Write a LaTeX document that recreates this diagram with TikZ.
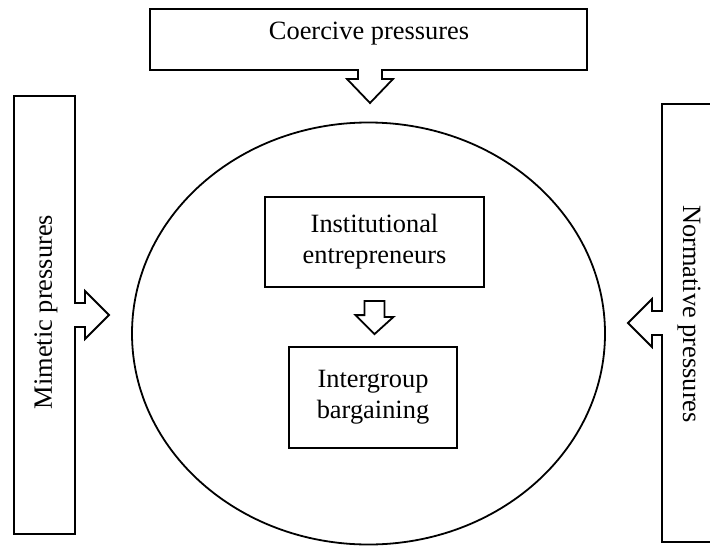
\documentclass[tikz,border=0pt]{standalone}
\usepackage{fontspec}
\setmainfont{Liberation Serif}
\usetikzlibrary{calc}

\tikzset{
  pressure/.style={font=\fontsize{13.2}{16}\selectfont},
  actor/.style={draw, line width=0.9pt, align=center, font=\fontsize{13.2}{15.5}\selectfont}
}

\begin{document}
\begin{tikzpicture}[x=0.5pt, y=-0.5pt, line width=0.9pt, line join=miter]
\clip (0,0) rectangle (710,545);

\draw (150,9) -- (587,9) -- (587,70) -- (382,70) -- (382,79) -- (393,79) -- (370,103) -- (347,79) -- (358,79) -- (358,70) -- (150,70) -- cycle;
\node [pressure] (coercive) at (369,34) {Coercive pressures};

\draw (14,96) -- (75,96) -- (75,303) -- (85,303) -- (85,291) -- (109,315) -- (85,339) -- (85,327) -- (75,327) -- (75,534) -- (14,534) -- cycle;
\node [pressure, rotate=90] (mimetic) at (46,312) {Mimetic pressures};

\draw (715,104) -- (662,104) -- (662,311) -- (652,311) -- (652,299) -- (628,323) -- (652,347) -- (652,335) -- (662,335) -- (662,542) -- (715,542);
\node [pressure, rotate=-90] (normative) at (689,314) {Normative pressures};

\draw (368.5,333.5) ellipse [x radius=118.25pt, y radius=105.5pt];

\node [actor, minimum width=109.5pt, minimum height=45pt] (entrepreneurs) at (374.5,242) {Institutional\\entrepreneurs};
\node [actor, minimum width=84pt, minimum height=50.5pt] (bargaining) at (373,397.5) {Intergroup\\bargaining};

\draw ($(entrepreneurs.south)+(-10,13)$) -- ++(20,0) -- ++(0,16) -- ++(9,0) -- ($(bargaining.north)+(1.5,-12)$) -- ++(-19,-19) -- ++(9,0) -- cycle;

\end{tikzpicture}
\end{document}
